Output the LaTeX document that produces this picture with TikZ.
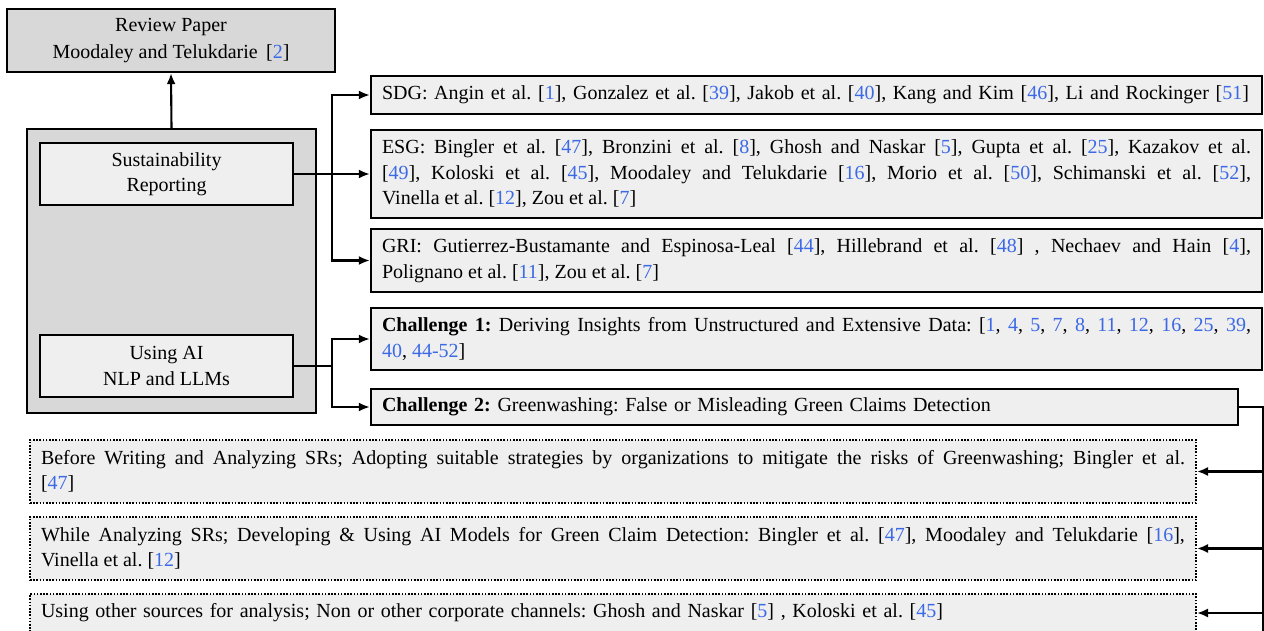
\documentclass[tikz,border=0pt]{standalone}
\usepackage{fontspec}
\setmainfont{Liberation Serif}
\usepackage{xcolor}
\usepackage{tikz}
\usetikzlibrary{arrows.meta, positioning, calc}

\definecolor{refblue}{RGB}{60,105,230}
\definecolor{darkbox}{RGB}{216,216,216}
\definecolor{litebox}{RGB}{239,239,239}
\newcommand{\rf}[1]{\textcolor{refblue}{#1}}
\newcommand{\brk}{\linebreak\relax}
\frenchspacing

\begin{document}
\begin{tikzpicture}[x=1pt, y=-1pt,
  font=\fontsize{20pt}{25.5pt}\selectfont,
  darkframe/.style={draw, line width=2.3pt, fill=darkbox, inner sep=0pt},
  liteframe/.style={draw, line width=2.3pt, fill=litebox, inner xsep=11pt, inner ysep=0pt},
  dotframe/.style={draw, line width=2pt, dash pattern=on 1.6pt off 1.6pt, fill=litebox, inner xsep=11pt, inner ysep=0pt},
  link/.style={line width=2.1pt, -{Latex[length=11pt,width=9pt]}},
  wire/.style={line width=2.1pt}]
  \useasboundingbox (0,0) rectangle (1264,631);
  \clip (0,0) rectangle (1264,631);

  % left column
  \node[darkframe, minimum width=328pt, minimum height=63pt, align=center,
        font=\fontsize{20pt}{26.5pt}\selectfont] (review) at (171,40.5)
    {Review Paper\\Moodaley and Telukdarie\, [\rf{2}]};
  \node[darkframe, minimum width=289pt, minimum height=284pt] (outer) at (171.5,271) {};
  \node[liteframe, minimum width=253pt, minimum height=62pt, align=center] (sust) at (166.5,174)
    {Sustainability\\Reporting};
  \node[liteframe, minimum width=253pt, minimum height=62pt, align=center] (useai) at (166.5,366)
    {Using AI\\NLP and LLMs};

  % reporting frameworks
  \node[liteframe, minimum width=891pt, minimum height=38pt, text width=869pt, align=left] (sdg) at (816.5,95)
    {SDG: Angin et al. [\rf{1}], Gonzalez et al. [\rf{39}], Jakob et al. [\rf{40}], Kang and Kim [\rf{46}], Li and Rockinger [\rf{51}]};
  \node[liteframe, minimum width=891pt, minimum height=88pt, text width=869pt, align=justify] (esg) at (816.5,174)
    {ESG: Bingler et al. [\rf{47}], Bronzini et al. [\rf{8}], Ghosh and Naskar [\rf{5}], Gupta et al. [\rf{25}], Kazakov et al.\brk
     [\rf{49}], Koloski et al. [\rf{45}], Moodaley and Telukdarie [\rf{16}], Morio et al. [\rf{50}], Schimanski et al. [\rf{52}],\brk
     Vinella et al. [\rf{12}], Zou et al. [\rf{7}]};
  \node[liteframe, minimum width=891pt, minimum height=63pt, text width=869pt, align=justify] (gri) at (816.5,260.5)
    {GRI: Gutierrez-Bustamante and Espinosa-Leal [\rf{44}], Hillebrand et al. [\rf{48}] , Nechaev and Hain [\rf{4}],\brk
     Polignano et al. [\rf{11}], Zou et al. [\rf{7}]};

  % challenges
  \node[liteframe, minimum width=891pt, minimum height=62pt, text width=869pt, align=justify] (chone) at (816.5,339)
    {\textbf{Challenge 1:} Deriving Insights from Unstructured and Extensive Data: [\rf{1}, \rf{4}, \rf{5}, \rf{7}, \rf{8}, \rf{11}, \rf{12}, \rf{16}, \rf{25}, \rf{39},\brk
     \rf{40}, \rf{44-52}]};
  \node[liteframe, minimum width=867pt, minimum height=36pt, text width=845pt, align=left] (chtwo) at (804.5,407)
    {\textbf{Challenge 2:} Greenwashing: False or Misleading Green Claims Detection};

  % greenwashing stages
  \node[dotframe, minimum width=1166pt, minimum height=63pt, text width=1144pt, align=justify] (before) at (613,471.5)
    {Before Writing and Analyzing SRs; Adopting suitable strategies by organizations to mitigate the risks of Greenwashing; Bingler et al.\brk
     [\rf{47}]};
  \node[dotframe, minimum width=1166pt, minimum height=63pt, text width=1144pt, align=justify] (while) at (613,548.5)
    {While Analyzing SRs; Developing \& Using AI Models for Green Claim Detection: Bingler et al. [\rf{47}], Moodaley and Telukdarie [\rf{16}],\brk
     Vinella et al. [\rf{12}]};
  \node[dotframe, minimum width=1166pt, minimum height=38pt, text width=1144pt, align=left] (other) at (613,613)
    {Using other sources for analysis; Non or other corporate channels: Ghosh and Naskar [\rf{5}] , Koloski et al. [\rf{45}]};

  % connectors
  \draw[link] (outer.north) -- (review.south);
  \coordinate (jsr) at (332,174);
  \draw[wire] (sust.east) -- (jsr);
  \draw[link] (jsr) -- (esg.west);
  \draw[link] (jsr) |- (sdg.west);
  \draw[link] (jsr) |- (gri.west);
  \coordinate (jai) at (332,366);
  \draw[wire] (useai.east) -- (jai);
  \draw[link] (jai) |- (chone.west);
  \draw[link] (jai) |- (chtwo.west);
  \coordinate (jgw) at (1263,407);
  \coordinate (jend) at (1263,640);
  \draw[wire] (chtwo.east) -- (jgw) -- (jend);
  \draw[link] (jgw |- before.east) -- (before.east);
  \draw[link] (jgw |- while.east) -- (while.east);
  \draw[link] (jgw |- other.east) -- (other.east);
\end{tikzpicture}
\end{document}
